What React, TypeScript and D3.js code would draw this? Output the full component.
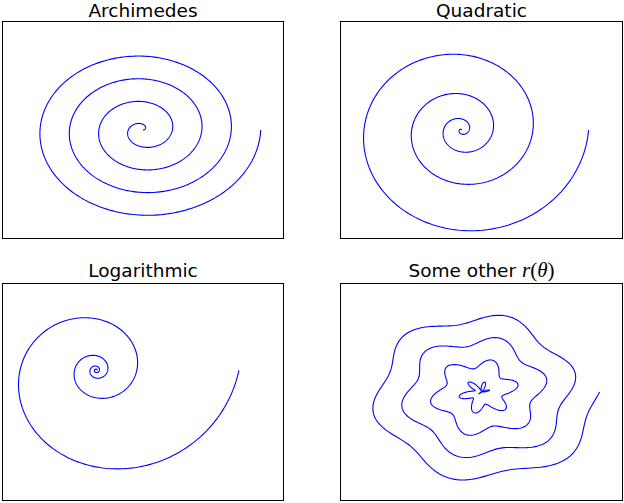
import React from "react";
import * as d3 from "d3";

// ---- data / parameters ----
const titles = ["Archimedes", "Quadratic", "Logarithmic", "Some other"];
const kinds = ["archimedes", "quadratic", "log", "other"];
const thetaMax = 8 * Math.PI; // four turns
const sampleCount = 1000;
const logRate = 0.2; // r = exp(0.2 θ)
const waveAmp = 1.5; // r = θ + 1.5 sin(6θ)
const waveFreq = 6;
const xDomains: [number, number][] = [[-30, 30], [-600, 800], [-100, 200], [-30, 30]];
const yDomains: [number, number][] = [[-30, 30], [-600, 600], [-150, 100], [-30, 30]];

const W = 624;
const H = 503;
const colLeft = [2.5, 340.5];
const colRight = [283.5, 622.5];
const rowTop = [21.5, 283.5];
const rowBottom = [238.5, 500.5];
const titleBase = [17, 277];

function radius(kind: string, t: number): number {
  if (kind === "archimedes") return t;
  if (kind === "quadratic") return t * t;
  if (kind === "log") return Math.exp(logRate * t);
  return t + waveAmp * Math.sin(waveFreq * t);
}

const thetas = d3.range(sampleCount).map((i) => (i / (sampleCount - 1)) * thetaMax);

export default function App() {
  const panels = kinds.map((kind, i) => {
    const col = i % 2;
    const row = Math.floor(i / 2);
    const x0 = colLeft[col], x1 = colRight[col];
    const y0 = rowTop[row], y1 = rowBottom[row];
    const xs = d3.scaleLinear().domain(xDomains[i]).range([x0, x1]);
    const ys = d3.scaleLinear().domain(yDomains[i]).range([y1, y0]);
    const pts = thetas.map((t) => {
      const r = radius(kind, t);
      return [r * Math.cos(t), r * Math.sin(t)] as [number, number];
    });
    const line = d3
      .line<[number, number]>()
      .x((d) => xs(d[0]))
      .y((d) => ys(d[1]));
    const cx = (x0 + x1) / 2;
    return (
      <g key={kind}>
        <defs>
          <clipPath id={"clip" + i}>
            <rect x={x0} y={y0} width={x1 - x0} height={y1 - y0} />
          </clipPath>
        </defs>
        <path
          d={line(pts) || ""}
          fill="none"
          stroke="#0000ff"
          strokeWidth={1.1}
          clipPath={`url(#clip${i})`}
        />
        <rect x={x0} y={y0} width={x1 - x0} height={y1 - y0} fill="none" stroke="#000" strokeWidth={1} />
        <text
          x={cx}
          y={titleBase[row]}
          textAnchor="middle"
          fontFamily="DejaVu Sans"
          fontSize={18.5}
          fill="#000"
        >
          {titles[i]}
          {kind === "other" ? (
            <>
              <tspan> </tspan>
              <tspan fontFamily="Liberation Serif" fontStyle="italic" fontSize={21}>r</tspan>
              <tspan fontFamily="Liberation Serif" fontSize={21}>(</tspan>
              <tspan fontFamily="Liberation Serif" fontStyle="italic" fontSize={21}>θ</tspan>
              <tspan fontFamily="Liberation Serif" fontSize={21}>)</tspan>
            </>
          ) : null}
        </text>
      </g>
    );
  });
  return (
    <svg
      width={W}
      height={H}
      style={{ position: "absolute", left: 0, top: 0, display: "block", background: "#fff" }}
    >
      <rect x={0} y={0} width={W} height={H} fill="#fff" />
      {panels}
    </svg>
  );
}
